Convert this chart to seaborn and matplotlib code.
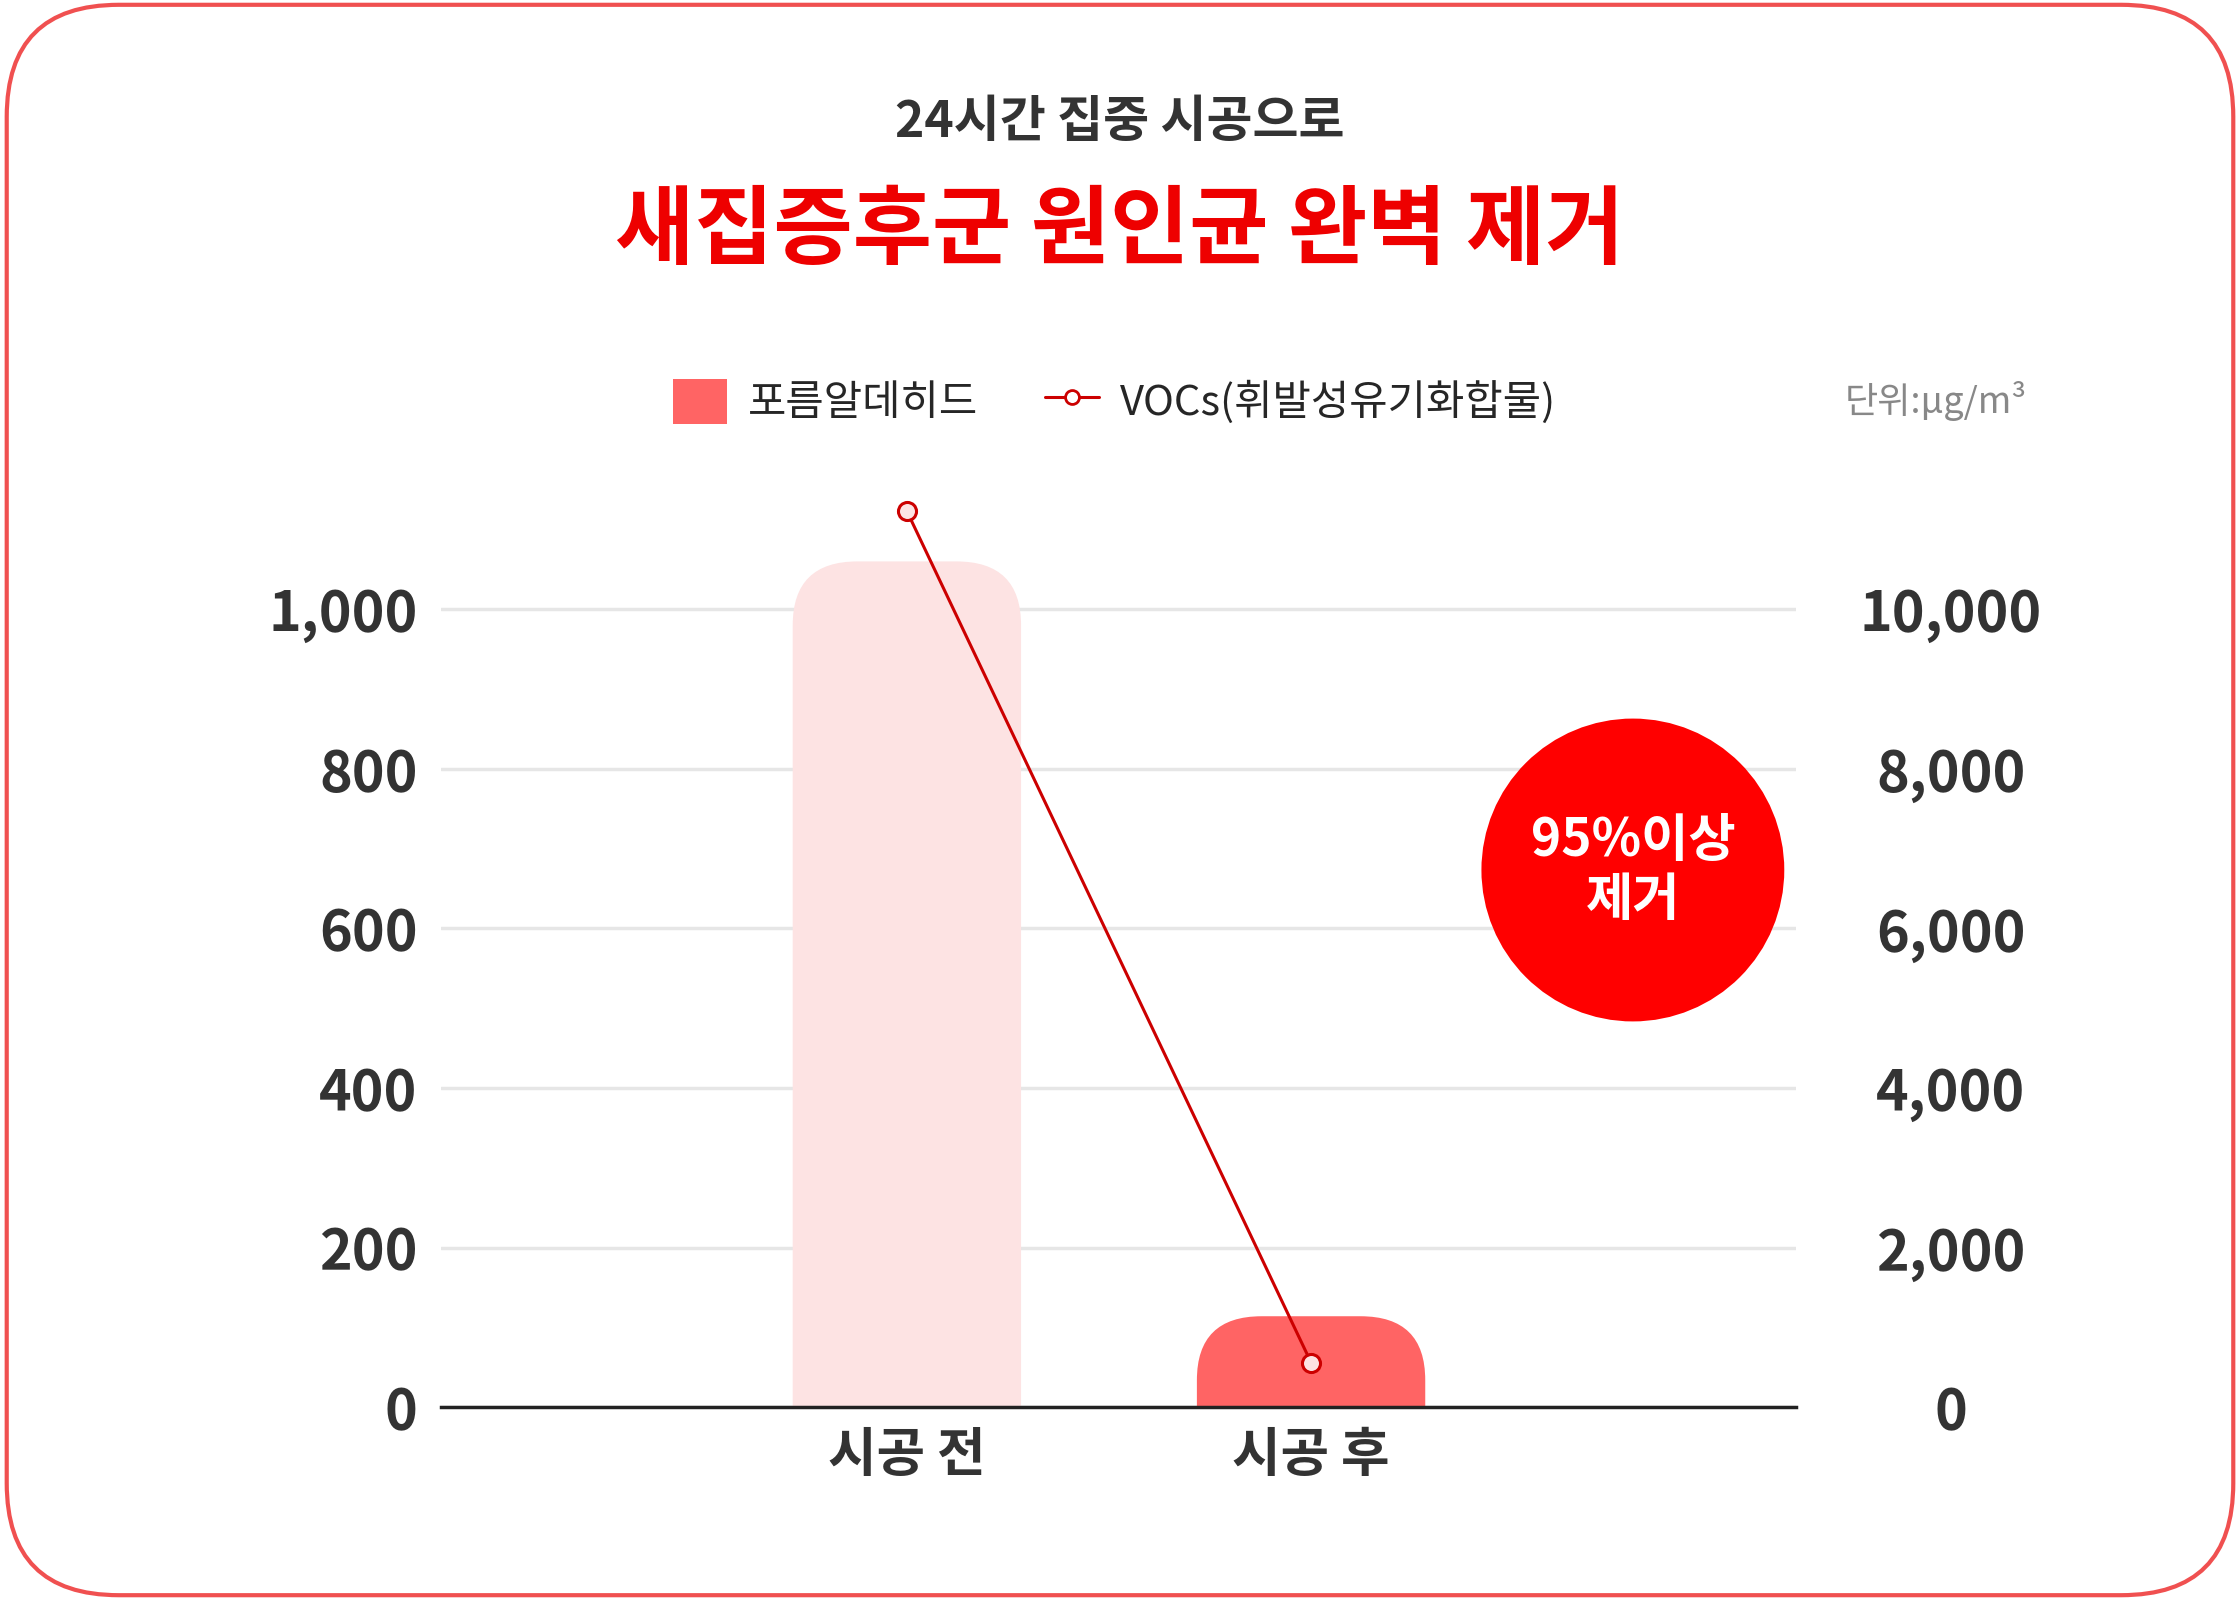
import matplotlib
matplotlib.use("Agg")
import matplotlib.pyplot as plt
import seaborn as sns
import pandas as pd
from matplotlib.patches import FancyBboxPatch, Ellipse
from matplotlib.lines import Line2D
from matplotlib.patches import Patch

sns.set_style("white")
plt.rcParams['font.family'] = ['Noto Sans CJK KR', 'DejaVu Sans']

categories = ['시공 전', '시공 후']
formaldehyde = [1060, 114]
vocs = [11230, 560]
left_ticks = [0, 200, 400, 600, 800, 1000]
right_ticks = [0, 2000, 4000, 6000, 8000, 10000]

df = pd.DataFrame({'cat': categories, 'hcho': formaldehyde, 'voc': vocs})

fig = plt.figure(figsize=(22.4, 16), dpi=100)
fig.patches.append(FancyBboxPatch((0.003, 0.003), 0.994, 0.994,
                                  boxstyle="round,pad=0,rounding_size=0.05",
                                  transform=fig.transFigure, fill=False,
                                  edgecolor='#f05050', linewidth=3, mutation_aspect=1.4))

ax = fig.add_axes([0.197, 0.1205, 0.605, 0.5755])
sns.barplot(data=df, x='cat', y='hcho', ax=ax, width=0.565)
ymax = 1154
ax.set_xlim(-1.152, 2.201)
ax.set_ylim(0, ymax)

bar_colors = ['#fde3e3', '#ff6464']
for p, c in zip(list(ax.patches), bar_colors):
    x, w, h = p.get_x(), p.get_width(), p.get_height()
    p.remove()
    ax.add_patch(FancyBboxPatch((x, -150), w, h + 150,
                                boxstyle="round,pad=0,rounding_size=0.16",
                                mutation_aspect=500, facecolor=c, edgecolor='none',
                                zorder=2, clip_on=True))

ax.set_yticks(left_ticks)
ax.set_yticklabels([f"{v:,}" for v in left_ticks])
ax.yaxis.grid(True, color='#e6e6e6', linewidth=2.5, zorder=0)
ax.set_axisbelow(True)
for s in ['top', 'right', 'left']:
    ax.spines[s].set_visible(False)
ax.spines['bottom'].set_color('#222222')
ax.spines['bottom'].set_linewidth(2.5)
ax.tick_params(axis='y', length=0, pad=17, labelsize=40, labelcolor='#333333')
ax.tick_params(axis='x', length=0, pad=16, labelsize=38, labelcolor='#333333')
for t in ax.get_xticklabels() + ax.get_yticklabels():
    t.set_fontweight('bold')
ax.set_xlabel('')
ax.set_ylabel('')

ax2 = ax.twinx()
ax2.set_ylim(0, ymax * 10)
sns.lineplot(x=[0, 1], y=vocs, ax=ax2, color='#cc0000', linewidth=2.2,
             marker='o', markersize=13, markerfacecolor='#fde3e3',
             markeredgecolor='#cc0000', markeredgewidth=2.2)
for sp in ax2.spines.values():
    sp.set_visible(False)
ax2.set_yticks(right_ticks)
ax2.set_yticklabels([f"{v:,}" for v in right_ticks])
ax2.tick_params(axis='y', length=0, pad=111, labelsize=40, labelcolor='#333333')
for t in ax2.get_yticklabels():
    t.set_horizontalalignment('center')
    t.set_fontweight('bold')
ax2.set_ylabel('')

# badge
fig.patches.append(Ellipse((1143 / 1568, 1 - 609 / 1120), 212 / 1568, 212 / 1120,
                           transform=fig.transFigure, facecolor='#ff0000',
                           edgecolor='none', zorder=5))
fig.text(1143 / 1568, 1 - 609 / 1120, '95%이상\n제거', ha='center', va='center',
         color='white', fontsize=37, fontweight='bold', linespacing=1.15, zorder=6)

# titles
fig.text(0.5, 1 - 86 / 1120, '24시간 집중 시공으로', ha='center', va='center',
         fontsize=36, color='#333333', fontweight='bold')
fig.text(0.5, 1 - 162 / 1120, '새집증후군 원인균 완벽 제거', ha='center', va='center',
         fontsize=62, color='#ee0000', fontweight='black')

handles = [Patch(facecolor='#ff6464', edgecolor='none'),
           Line2D([0], [0], color='#cc0000', linewidth=2.2, marker='o', markersize=10,
                  markerfacecolor='white', markeredgecolor='#cc0000', markeredgewidth=2)]
fig.legend(handles, ['포름알데히드', 'VOCs(휘발성유기화합물)'], loc='center',
           bbox_to_anchor=(780 / 1568, 1 - 281 / 1120), ncol=2, frameon=False,
           fontsize=30, handlelength=1.3, handleheight=1.3, columnspacing=1.6,
           handletextpad=0.5)
fig.text(1355 / 1568, 1 - 281 / 1120, '단위:μg/m³', ha='center', va='center',
         fontsize=26, color='#888888')

fig.savefig('out.png', dpi=100)
